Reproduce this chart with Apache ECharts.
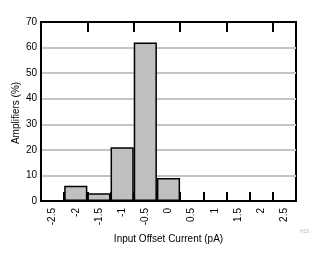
<!DOCTYPE html>
<html>
<head>
<meta charset="utf-8">
<script src="https://cdn.jsdelivr.net/npm/echarts@6/dist/echarts.min.js"></script>
<style>
html,body{margin:0;padding:0;background:#fff;}
#chart{width:329px;height:261px;}
</style>
</head>
<body>
<div id="chart"></div>
<script>
const categories = ['-2.5','-2','-1.5','-1','-0.5','0','0.5','1','1.5','2','2.5'];
const amplifiers = [0, 6, 3, 21, 62, 9, 0, 0, 0, 0, 0];
const yTicks = { min: 0, max: 70, interval: 10 };

const font = '"Liberation Sans", Arial, sans-serif';
const chart = echarts.init(document.getElementById('chart'), null, { renderer: 'canvas' });
chart.setOption({
  animation: false,
  grid: { left: 41, right: 33, top: 22, bottom: 60, show: true, borderColor: '#000', borderWidth: 2, backgroundColor: 'transparent' },
  xAxis: [
    {
      type: 'category', data: categories, position: 'bottom', boundaryGap: true,
      axisLine: { show: true, lineStyle: { color: '#000', width: 2 } },
      axisTick: { show: true, inside: true, length: 9, lineStyle: { color: '#000', width: 2 } },
      axisLabel: { rotate: 90, fontSize: 10, color: '#000', fontFamily: font, margin: 7, interval: 0 },
      name: 'Input Offset Current (pA)', nameLocation: 'middle', nameGap: 33,
      nameTextStyle: { fontSize: 10, color: '#000', fontFamily: font },
      splitLine: { show: false }
    },
    {
      type: 'category', data: categories, position: 'top', boundaryGap: true,
      axisLine: { show: true, lineStyle: { color: '#000', width: 2 } },
      axisTick: { show: true, inside: true, length: 10, lineStyle: { color: '#000', width: 2 } },
      axisLabel: { show: false },
      splitLine: { show: false }
    }
  ],
  yAxis: {
    type: 'value', min: yTicks.min, max: yTicks.max, interval: yTicks.interval,
    axisLine: { show: true, lineStyle: { color: '#000', width: 2 } },
    axisTick: { show: false },
    axisLabel: { fontSize: 10, color: '#000', fontFamily: font, margin: 4 },
    splitLine: { show: true, lineStyle: { color: '#c4c4c4', width: 2 } }
  },
  series: [{
    type: 'bar', data: amplifiers, xAxisIndex: 0, barWidth: '100%', z: 5,
    itemStyle: { color: '#c0c0c0', borderColor: '#000', borderWidth: 1.5 }
  }],
  graphic: [
    {
      type: 'text', x: 16, y: 113, rotation: Math.PI / 2,
      style: { text: 'Amplifiers (%)', fontSize: 10, fill: '#000', fontFamily: font, align: 'center', verticalAlign: 'middle' }
    },
    {
      type: 'text', left: 300, top: 229,
      style: { text: 'H15', fontSize: 5, fill: '#b8b8c8', fontFamily: font }
    }
  ]
});
</script>
</body>
</html>
